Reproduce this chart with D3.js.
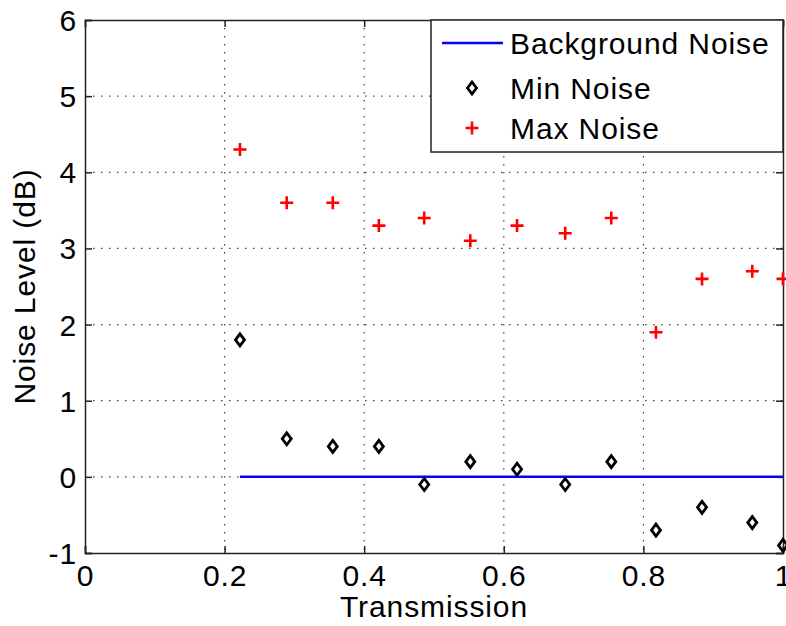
<!DOCTYPE html>
<html><head><meta charset="utf-8">
<script src="https://cdn.jsdelivr.net/npm/d3@7"></script>
<style>body{margin:0;background:#fff;} svg{display:block;font-family:"Liberation Sans",Arial,sans-serif;}</style>
</head><body>
<svg id="c" width="786" height="626"></svg>
<script>
const transmission = [0.222, 0.289, 0.355, 0.421, 0.486, 0.552, 0.619, 0.688, 0.754, 0.818, 0.884, 0.956, 1.0];
const maxNoise = [4.3, 3.6, 3.6, 3.3, 3.4, 3.1, 3.3, 3.2, 3.4, 1.9, 2.6, 2.7, 2.6];
const minNoise = [1.8, 0.5, 0.4, 0.4, -0.1, 0.2, 0.1, -0.1, 0.2, -0.7, -0.4, -0.6, -0.9];
const background = [0, 0];
const backgroundX = [0.222, 1.0];
const xTicks = [0, 0.2, 0.4, 0.6, 0.8, 1];
const yTicks = [-1, 0, 1, 2, 3, 4, 5, 6];
const legendLabels = ["Background Noise", "Min Noise", "Max Noise"];

const svg = d3.select("#c");
const L = 85, R = 783, T = 20, B = 553;
const x = d3.scaleLinear().domain([0, 1]).range([L, R]);
const y = d3.scaleLinear().domain([-1, 6]).range([B, T]);
const fs = 30;
const ls = "0.9px";

// grid
const g = svg.append("g");
g.selectAll(".gx").data(xTicks.slice(1, -1)).enter().append("line")
  .attr("x1", d => x(d)).attr("x2", d => x(d)).attr("y1", T).attr("y2", B)
  .attr("stroke", "#444").attr("stroke-width", 1.2).attr("stroke-dasharray", "1.5,6.5");
g.selectAll(".gy").data(yTicks.slice(1, -1)).enter().append("line")
  .attr("y1", d => y(d)).attr("y2", d => y(d)).attr("x1", L).attr("x2", R)
  .attr("stroke", "#444").attr("stroke-width", 1.2).attr("stroke-dasharray", "1.5,6.5");

// axes (box with inward ticks)
const fmt = d => String(d);
const xb = svg.append("g").attr("transform", `translate(0,${B})`)
  .call(d3.axisBottom(x).tickValues(xTicks).tickSize(-7).tickPadding(12).tickFormat(fmt));
const xt = svg.append("g").attr("transform", `translate(0,${T})`)
  .call(d3.axisTop(x).tickValues(xTicks).tickSize(-7).tickFormat(""));
const yl = svg.append("g").attr("transform", `translate(${L},0)`)
  .call(d3.axisLeft(y).tickValues(yTicks).tickSize(-7).tickPadding(8).tickFormat(fmt));
const yr = svg.append("g").attr("transform", `translate(${R},0)`)
  .call(d3.axisRight(y).tickValues(yTicks).tickSize(-7).tickFormat(""));
[xb, xt, yl, yr].forEach(a => {
  a.select(".domain").attr("stroke", "#222").attr("stroke-width", 1.5);
  a.selectAll(".tick line").attr("stroke", "#222").attr("stroke-width", 1.5);
  a.selectAll("text").attr("font-size", fs).attr("fill", "#000")
    .attr("letter-spacing", ls).attr("font-family", "Liberation Sans, Arial, sans-serif");
});
yl.selectAll("text").attr("dy", "0.35em");

// background line
svg.append("path").datum(backgroundX.map((d, i) => [d, background[i]]))
  .attr("d", d3.line().x(d => x(d[0])).y(d => y(d[1])))
  .attr("stroke", "#0000ff").attr("stroke-width", 2.5).attr("fill", "none");

const diamond = "M0,-6 L4.5,0 L0,6 L-4.5,0 Z";
const plus = "M-6.5,0 H6.5 M0,-6.5 V6.5";

svg.selectAll(".mn").data(transmission).enter().append("path")
  .attr("transform", (d, i) => `translate(${x(d)},${y(minNoise[i])})`)
  .attr("d", diamond).attr("fill", "none").attr("stroke", "#000").attr("stroke-width", 2.8);
svg.selectAll(".mx").data(transmission).enter().append("path")
  .attr("transform", (d, i) => `translate(${x(d)},${y(maxNoise[i])})`)
  .attr("d", plus).attr("fill", "none").attr("stroke", "#ff0000").attr("stroke-width", 2.6);

// legend
const lg = svg.append("g");
lg.append("rect").attr("x", 431).attr("y", T).attr("width", R - 431).attr("height", 132)
  .attr("fill", "#fff").attr("stroke", "#222").attr("stroke-width", 1.5);
const ly = [43, 88, 128];
lg.append("line").attr("x1", 442).attr("x2", 503).attr("y1", ly[0]).attr("y2", ly[0])
  .attr("stroke", "#0000ff").attr("stroke-width", 2.5);
lg.append("path").attr("transform", `translate(472,${ly[1]})`).attr("d", diamond)
  .attr("fill", "none").attr("stroke", "#000").attr("stroke-width", 2.8);
lg.append("path").attr("transform", `translate(472,${ly[2]})`).attr("d", plus)
  .attr("fill", "none").attr("stroke", "#ff0000").attr("stroke-width", 2.6);
lg.selectAll("text.l").data(legendLabels).enter().append("text")
  .attr("x", 510).attr("y", (d, i) => ly[i]).attr("dy", "0.36em")
  .attr("font-size", fs).attr("letter-spacing", ls).text(d => d);

// axis labels
svg.append("text").attr("x", (L + R) / 2).attr("y", 617).attr("text-anchor", "middle")
  .attr("font-size", fs).attr("letter-spacing", ls).text("Transmission");
svg.append("text").attr("transform", `translate(35,${(T + B) / 2}) rotate(-90)`)
  .attr("text-anchor", "middle").attr("font-size", fs).attr("letter-spacing", ls).text("Noise Level (dB)");
</script>
</body></html>
